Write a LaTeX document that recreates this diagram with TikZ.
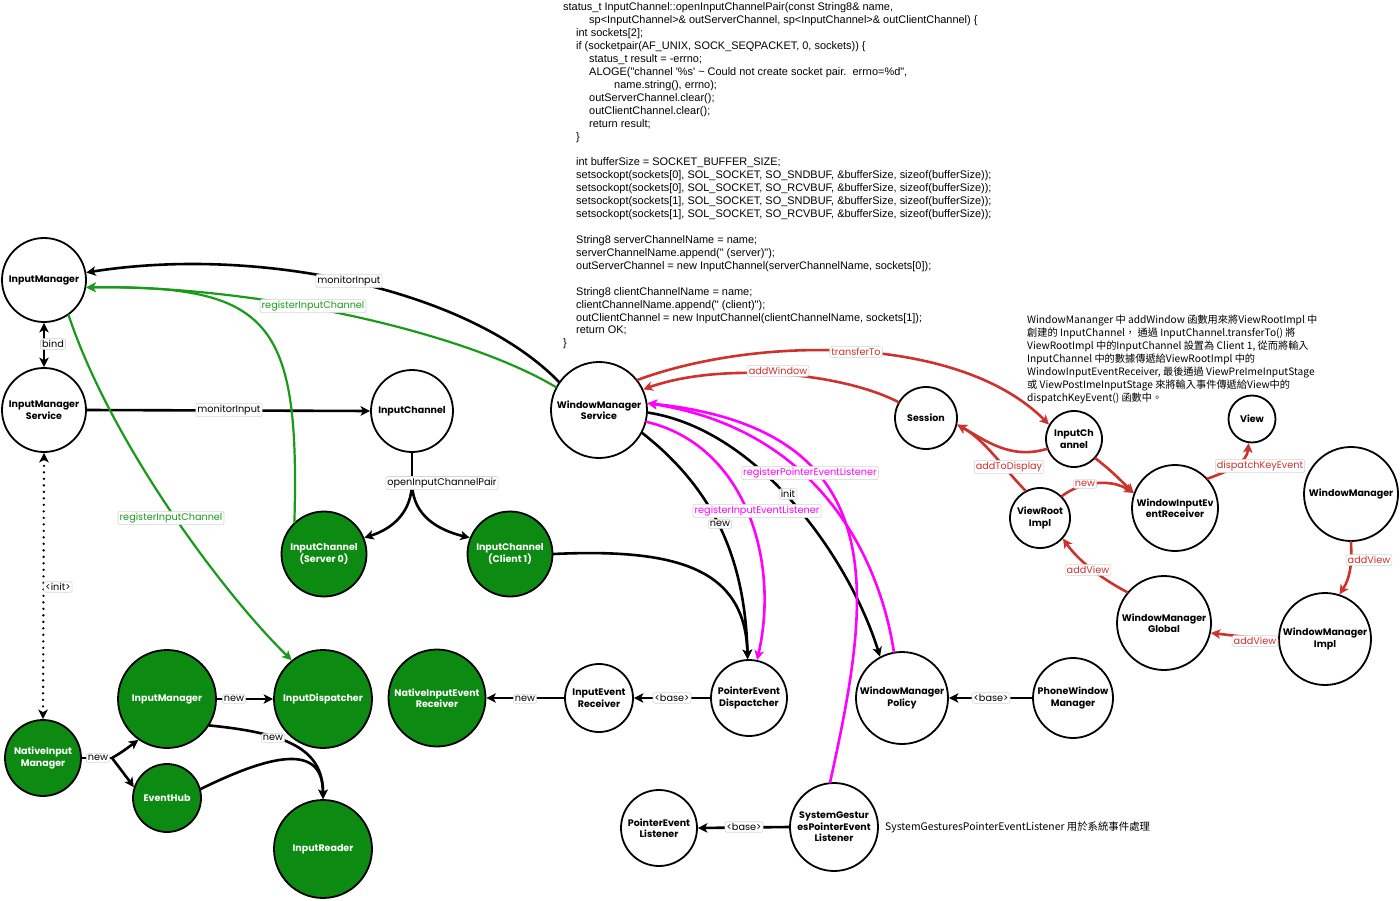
\documentclass[tikz,border=0pt]{standalone}
\usepackage{fontspec}
\setmainfont{Poppins}
\newfontfamily\codefont{Liberation Sans}
\newfontfamily\cjkfont{Noto Sans CJK TC}
\usetikzlibrary{arrows.meta}
\definecolor{gfill}{RGB}{12,138,18}
\definecolor{gline}{RGB}{25,155,25}
\definecolor{rline}{RGB}{205,50,45}
\definecolor{mline}{RGB}{255,0,255}
\definecolor{lblborder}{RGB}{212,212,212}
\begin{document}
\begin{tikzpicture}[x=1pt,y=-1pt,
  >={Stealth[length=9.5pt,width=9.5pt,inset=2.5pt]},
  circ/.style={circle, draw=black, line width=1.8pt, fill=white, inner sep=0pt, align=center,
     font=\fontsize{9.5}{11.5}\selectfont\bfseries, minimum size=#1},
  gcirc/.style={circ=#1, fill=gfill, text=white},
  lbl/.style={fill=white, draw=lblborder, line width=0.6pt, rounded corners=2pt, inner sep=1.6pt,
     font=\fontsize{9.7}{10.5}\selectfont},
  bk/.style={draw=black, line width=2.6pt, line cap=round, ->},
  gr/.style={draw=gline, line width=2.2pt, line cap=round, ->},
  rd/.style={draw=rline, line width=2.6pt, line cap=round, ->},
  mg/.style={draw=mline, line width=2.6pt, line cap=round, ->},
  code/.style={anchor=base west, inner sep=0pt, font=\codefont\fontsize{10.95}{12.9}\selectfont},
]
\fill[white] (0,0) rectangle (1400,901);
\useasboundingbox (0,0) rectangle (1400,901);

% ---------- code block ----------
\node[code] (l0) at (563,11) {status\_t InputChannel::openInputChannelPair(const String8\& name,};
\node[code] (l1) at (589,23.9) {sp<InputChannel>\& outServerChannel, sp<InputChannel>\& outClientChannel) \{};
\node[code] (l2) at (576,36.8) {int sockets[2];};
\node[code] (l3) at (576,49.8) {if (socketpair(AF\_UNIX, SOCK\_SEQPACKET, 0, sockets)) \{};
\node[code] (l4) at (589,62.7) {status\_t result = -errno;};
\node[code] (l5) at (589,75.6) {ALOGE("channel \textquotesingle\%s\textquotesingle\ \textasciitilde\ Could not create socket pair.\ \ errno=\%d",};
\node[code] (l6) at (614,88.5) {name.string(), errno);};
\node[code] (l7) at (589,101.4) {outServerChannel.clear();};
\node[code] (l8) at (589,114.4) {outClientChannel.clear();};
\node[code] (l9) at (589,127.3) {return result;};
\node[code] (l10) at (576,140.2) {\}};
\node[code] (l12) at (576,166) {int bufferSize = SOCKET\_BUFFER\_SIZE;};
\node[code] (l13) at (576,179) {setsockopt(sockets[0], SOL\_SOCKET, SO\_SNDBUF, \&bufferSize, sizeof(bufferSize));};
\node[code] (l14) at (576,191.9) {setsockopt(sockets[0], SOL\_SOCKET, SO\_RCVBUF, \&bufferSize, sizeof(bufferSize));};
\node[code] (l15) at (576,204.8) {setsockopt(sockets[1], SOL\_SOCKET, SO\_SNDBUF, \&bufferSize, sizeof(bufferSize));};
\node[code] (l16) at (576,217.7) {setsockopt(sockets[1], SOL\_SOCKET, SO\_RCVBUF, \&bufferSize, sizeof(bufferSize));};
\node[code] (l18) at (576,243.6) {String8 serverChannelName = name;};
\node[code] (l19) at (576,256.5) {serverChannelName.append(" (server)");};
\node[code] (l20) at (576,269.4) {outServerChannel = new InputChannel(serverChannelName, sockets[0]);};
\node[code] (l22) at (576,295.2) {String8 clientChannelName = name;};
\node[code] (l23) at (576,308.2) {clientChannelName.append(" (client)");};
\node[code] (l24) at (576,321.1) {outClientChannel = new InputChannel(clientChannelName, sockets[1]);};
\node[code] (l25) at (576,334) {return OK;};
\node[code] (l26) at (563,346.9) {\}};

% ---------- notes ----------
\node[anchor=north west, align=left, inner sep=0pt, font=\cjkfont\fontsize{10.2}{12.9}\selectfont] (note) at (1027,315)
 {WindowMananger 中 addWindow 函數用來將ViewRootImpl 中\\
  創建的 InputChannel， 通過 InputChannel.transferTo() 將\\
  ViewRootImpl 中的InputChannel 設置為 Client 1, 從而將輸入\\
  InputChannel 中的數據傳遞給ViewRootImpl 中的\\
  WindowInputEventReceiver, 最後通過 ViewPreImeInputStage\\
  或 ViewPostImeInputStage 來將輸入事件傳遞給View中的\\
  dispatchKeyEvent() 函數中。};
\node[anchor=west, inner sep=0pt, font=\cjkfont\fontsize{10.4}{11}\selectfont] (sgnote) at (885,827)
 {SystemGesturesPointerEventListener 用於系統事件處理};

% ---------- nodes ----------
\node[circ=84pt] (im) at (44,280) {InputManager};
\node[circ=84pt] (ims) at (44,410) {InputManager\\Service};
\node[circ=82pt] (ic) at (412,411) {InputChannel};
\node[circ=96pt] (wms) at (599,410) {WindowManager\\Service};
\node[circ=62pt] (ses) at (926,418) {Session};
\node[circ=56pt] (icr) at (1074,439) {InputCh\\annel};
\node[circ=60pt] (vri) at (1040,518) {ViewRoot\\Impl};
\node[circ=86pt] (wier) at (1175,508) {WindowInputEv\\entReceiver};
\node[circ=47pt] (view) at (1252,419) {View};
\node[circ=94pt] (wm) at (1351,494) {WindowManager};
\node[circ=94pt] (wmg) at (1164,623) {WindowManager\\Global};
\node[circ=92pt] (wmi) at (1325,639) {WindowManager\\Impl};
\node[gcirc=85pt] (s0) at (324,554) {InputChannel\\(Server 0)};
\node[gcirc=85pt] (c1) at (510,554) {InputChannel\\(Client 1)};
\node[gcirc=97pt] (nier) at (437,698) {NativeInputEvent\\Receiver};
\node[circ=68pt] (ier) at (599,698) {InputEvent\\Receiver};
\node[circ=76pt] (ped) at (749,698) {PointerEvent\\Dispactcher};
\node[circ=92pt] (wmp) at (902,698) {WindowManager\\Policy};
\node[circ=80pt] (pwm) at (1073,698) {PhoneWindow\\Manager};
\node[gcirc=98pt] (gim) at (167,699) {InputManager};
\node[gcirc=98pt] (gid) at (323,699) {InputDispatcher};
\node[gcirc=76pt] (nim) at (43,758) {NativeInput\\Manager};
\node[gcirc=68pt] (eh) at (167,798) {EventHub};
\node[gcirc=98pt] (ir) at (323,849) {InputReader};
\node[circ=76pt] (pel) at (659,828) {PointerEvent\\Listener};
\node[circ=88pt] (sg) at (834,827) {SystemGestur\\esPointerEvent\\Listener};

% ---------- black edges ----------
\draw[bk] (wms.145) .. controls (470,290) and (260,245) .. (im.10);
\draw[bk] (ims.east) -- (ic.west);
\draw[bk,<->] (im.south) -- (ims.north);
\draw[bk,<->,dash pattern=on 0pt off 6.5pt] (ims.south) -- (nim.north);
\coordinate (icsp) at (412,482);
\draw[bk,-] (ic.south) -- (icsp);
\draw[bk] (icsp) .. controls (412,510) and (395,528) .. (s0.22);
\draw[bk] (icsp) .. controls (412,510) and (430,528) .. (c1.158);
\draw[bk] (c1.east) .. controls (680,548) and (745,570) .. (ped.92);
\draw[bk] (wms.-28) .. controls (715,490) and (745,560) .. (ped.92);
\draw[bk] (wms.-3) .. controls (760,430) and (850,560) .. (wmp.118);
\draw[bk] (ier.west) -- (nier.east);
\draw[bk] (ped.west) -- (ier.east);
\draw[bk] (pwm.west) -- (wmp.east);
\draw[bk] (sg.west) -- (pel.east);
\draw[bk] (gim.east) -- (gid.west);
\coordinate (nsp) at (112,758);
\draw[bk,-] (nim.east) -- (nsp);
\draw[bk] (nsp) .. controls (122,752) .. (gim.235);
\draw[bk] (nsp) .. controls (122,770) .. (eh.162);
\draw[bk] (gim.-32) .. controls (285,733) and (323,748) .. (ir.north);
\draw[bk] (eh.15) .. controls (270,755) and (323,742) .. (ir.north);

% ---------- green edges ----------
\draw[gr] (s0.133) .. controls (300,320) and (270,285) .. (im.-10);
\draw[gr] (wms.152) .. controls (460,330) and (250,285) .. (im.-10);
\draw[gr] (im.-55) .. controls (110,440) and (220,590) .. (gid.129);

% ---------- red edges ----------
\draw[rd] (ses.150) .. controls (840,372) and (720,362) .. (wms.25);
\draw[rd] (wms.38) .. controls (760,335) and (960,335) .. (icr.150);
\draw[rd] (icr.200) .. controls (1010,460) and (985,440) .. (ses.-12);
\draw[rd] (vri.118) .. controls (1005,470) and (985,440) .. (ses.-12);
\draw[rd] (vri.45) .. controls (1080,482) and (1110,478) .. (wier.160);
\draw[rd] (icr.-42) .. controls (1110,470) .. (wier.160);
\draw[rd] (wier.42) .. controls (1232,470) and (1247,462) .. (view.-98);
\draw[rd] (wm.-90) .. controls (1352,565) and (1350,578) .. (wmi.72);
\draw[rd] (wmi.182) -- (wmg.-12);
\draw[rd] (wmg.140) .. controls (1100,578) and (1078,560) .. (vri.-42);

% ---------- magenta edges ----------
\draw[mg] (wms.-14) .. controls (745,445) and (780,560) .. (ped.78);
\draw[mg] (wmp.100) .. controls (880,560) and (820,430) .. (wms.8);
\draw[mg] (sg.95) .. controls (870,600) and (900,430) .. (wms.8);

% ---------- labels ----------
\node[lbl] (lb1) at (349,281) {monitorInput};
\node[lbl] (lb2) at (229,410) {monitorInput};
\node[lbl] (lb3) at (53,344) {bind};
\node[lbl] (lb4) at (58,587) {<init>};
\node[lbl] (lb5) at (442,483) {openInputChannelPair};
\node[lbl] (lb6) at (720,524) {new};
\node[lbl] (lb7) at (788,494) {init};
\node[lbl] (lb8) at (525,699) {new};
\node[lbl] (lb9) at (672,698) {<base>};
\node[lbl] (lb10) at (991,698) {<base>};
\node[lbl] (lb11) at (744,827) {<base>};
\node[lbl] (lb12) at (234,699) {new};
\node[lbl] (lb13) at (98,758) {new};
\node[lbl] (lb14) at (273,738) {new};
\node[lbl,text=gline] (lg1) at (313,306) {registerInputChannel};
\node[lbl,text=gline] (lg2) at (171,518) {registerInputChannel};
\node[lbl,text=rline] (lr1) at (778,371) {addWindow};
\node[lbl,text=rline] (lr2) at (856,352) {transferTo};
\node[lbl,text=rline] (lr3) at (1009,467) {addToDisplay};
\node[lbl,text=rline] (lr4) at (1085,484) {new};
\node[lbl,text=rline] (lr5) at (1260,466) {dispatchKeyEvent};
\node[lbl,text=rline] (lr6) at (1369,560) {addView};
\node[lbl,text=rline] (lr7) at (1255,641) {addView};
\node[lbl,text=rline] (lr8) at (1088,570) {addView};
\node[lbl,text=mline] (lm1) at (757,511) {registerInputEventListener};
\node[lbl,text=mline] (lm2) at (810,473) {registerPointerEventListener};
\end{tikzpicture}
\end{document}
